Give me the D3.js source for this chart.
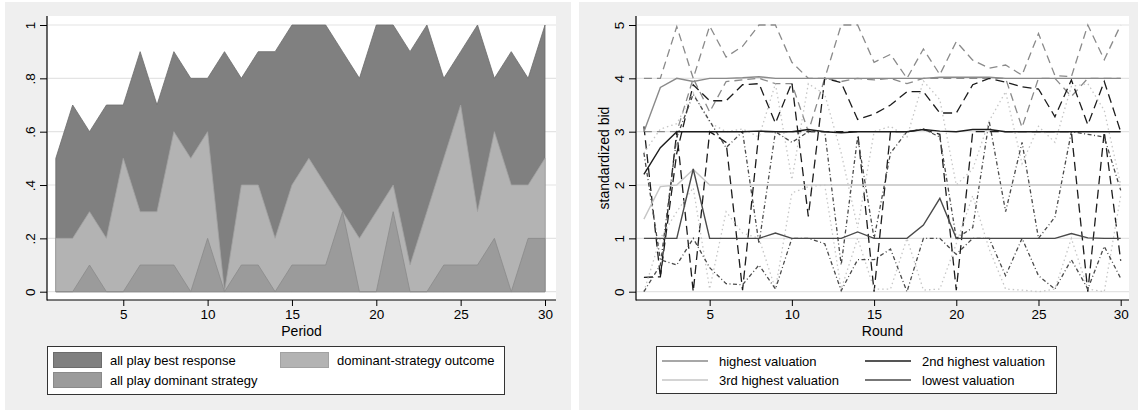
<!DOCTYPE html>
<html>
<head>
<meta charset="utf-8">
<script src="https://cdn.jsdelivr.net/npm/d3@7"></script>
<style>
  html, body { margin: 0; padding: 0; background: #fff; }
  svg { display: block; font-family: "Liberation Sans", Arial, Helvetica, sans-serif; }
</style>
</head>
<body>
<svg id="chart" width="1138" height="410"></svg>
<script>
// ---- data ----
const periods = [1, 2, 3, 4, 5, 6, 7, 8, 9, 10, 11, 12, 13, 14, 15, 16, 17, 18, 19, 20, 21, 22, 23, 24, 25, 26, 27, 28, 29, 30];

const bestResponse = [0.5, 0.7, 0.6, 0.7, 0.7, 0.9, 0.7, 0.9, 0.8, 0.8, 0.9, 0.8, 0.9, 0.9, 1.0,
  1.0, 1.0, 0.9, 0.8, 1.0, 1.0, 0.9, 1.0, 0.8, 0.9, 1.0, 0.8, 0.9, 0.8, 1.0];
const domOutcome = [0.2, 0.2, 0.3, 0.2, 0.5, 0.3, 0.3, 0.6, 0.5, 0.6, 0.0, 0.4, 0.4, 0.2, 0.4,
  0.5, 0.4, 0.3, 0.2, 0.3, 0.4, 0.1, 0.3, 0.5, 0.7, 0.3, 0.6, 0.4, 0.4, 0.5];
const domStrategy = [0.0, 0.0, 0.1, 0.0, 0.0, 0.1, 0.1, 0.1, 0.0, 0.2, 0.0, 0.1, 0.1, 0.0, 0.1,
  0.1, 0.1, 0.3, 0.0, 0.0, 0.3, 0.0, 0.0, 0.1, 0.1, 0.1, 0.2, 0.0, 0.2, 0.2];

const leftYTicks = [0, 0.2, 0.4, 0.6, 0.8, 1];
const leftYLabels = ['0', '.2', '.4', '.6', '.8', '1'];
const xTicks = [5, 10, 15, 20, 25, 30];

// right panel: solid line + two dashed lines per valuation rank
const highestMid = [3, 3.83, 4, 3.94, 4, 4, 4.01, 4.03, 4, 4, 4, 4, 4, 4, 4,
  4, 4, 4, 4.02, 4.02, 4.02, 4.02, 4, 4, 4, 4, 4, 4, 4, 4];
const highestUp = [4, 4, 4.97, 4.0, 4.98, 4.4, 4.6, 5, 5, 4.3, 4.0, 4.0, 5, 5, 4.3,
  4.45, 4.0, 4.55, 4.07, 4.69, 4.34, 4.19, 4.25, 4.06, 4.84, 4.05, 4.03, 5, 4.35, 5];
const highestLow = [3, 3, 3, 4.0, 3.37, 3.94, 3.97, 4.0, 3.9, 3.9, 3.0, 4.0, 3.94, 4.0, 3.97,
  4.0, 3.9, 4.0, 4.0, 4.0, 4.0, 4.0, 4.0, 3.08, 4.0, 4.0, 3.66, 4.0, 4.0, 4.0];

const secondMid = [2.2, 2.7, 3, 3, 3, 3, 3, 3.01, 3, 3, 3.04, 3, 2.98, 3, 3,
  3, 3, 3.04, 3.01, 3, 3.04, 3.04, 3, 3, 3, 3, 3, 3, 3, 3];
const secondUp = [0.27, 0.28, 2.6, 3.88, 3.58, 3.58, 3.88, 3.9, 3.16, 3.92, 1.41, 4.0, 3.92, 3.23, 3.33,
  3.5, 3.75, 3.75, 3.35, 3.35, 3.88, 4.0, 3.93, 3.84, 3.8, 3.28, 3.97, 3.13, 3.94, 3.0];
const secondLow = [3.1, 0.28, 3.0, 0.0, 3.0, 2.8, 0.03, 3.0, 3.0, 3.0, 3.0, 3.0, 3.0, 3.0, 0.0,
  3.0, 3.0, 3.04, 2.95, 0.03, 3.0, 3.0, 3.0, 3.0, 3.0, 3.0, 3.0, 0.0, 3.0, 0.58];

const thirdMid = [1.36, 1.97, 2.0, 2.29, 2.0, 2.0, 2.0, 2.0, 2.0, 2.0, 2.0, 2.0, 2.0, 2.0, 2.0,
  2.0, 2.0, 2.0, 2.0, 2.0, 2.0, 2.0, 2.0, 2.0, 2.0, 2.0, 2.0, 2.0, 2.0, 2.0];
const thirdUp = [2.6, 3.05, 3.15, 3.73, 3.17, 3.0, 3.05, 2.9, 3.9, 2.1, 3.9, 3.7, 2.6, 1.2, 3.0,
  3.1, 2.9, 3.95, 3.6, 2.0, 2.3, 3.2, 3.75, 2.4, 3.1, 2.8, 3.85, 3.9, 3.4, 2.0];
const thirdLow = [0.0, 1.0, 1.5, 1.95, 0.05, 1.5, 1.1, 1.0, 0.05, 1.85, 1.97, 2.0, 0.05, 1.0, 0.05,
  0.05, 1.0, 0.03, 0.05, 0.9, 1.8, 0.8, 0.05, 0.03, 0.0, 0.05, 1.0, 0.05, 0.0, 1.8];

const lowestMid = [1, 1, 1, 2.3, 1, 1, 1, 1, 1.1, 1, 1, 1, 1, 1.12, 1,
  1, 1, 1.25, 1.75, 1, 1, 1, 1, 1, 1, 1, 1.09, 1.01, 1, 1];
const lowestUp = [2.6, 0.6, 0.5, 1.0, 0.45, 0.15, 0.13, 0.5, 0.05, 1.0, 1.0, 0.9, 0.02, 0.6, 0.6,
  0.8, 0.0, 1.0, 1.0, 0.7, 1.0, 1.0, 0.3, 1.0, 0.3, 0.05, 0.6, 0.05, 0.85, 0.25];
const lowestLow = [0.0, 0.5, 2.9, 3.7, 3.2, 2.7, 3.0, 0.9, 3.0, 2.8, 3.0, 3.0, 0.5, 2.9, 1.0,
  2.6, 3.0, 3.05, 2.9, 1.0, 1.2, 3.2, 1.5, 2.8, 1.0, 1.4, 3.0, 2.95, 2.9, 1.9];

const rightYTicks = [0, 1, 2, 3, 4, 5];

// ---- drawing ----
const svg = d3.select('#chart');

function panel(x, w) {
  svg.append('rect')
    .attr('x', x).attr('y', 2)
    .attr('width', w).attr('height', 408)
    .attr('fill', '#efefef');
}

function plotBox(x0, x1) {
  svg.append('rect')
    .attr('x', x0).attr('y', 16)
    .attr('width', x1 - x0).attr('height', 284)
    .attr('fill', '#fff');
}

function grid(yScale, ticks, x0, x1) {
  svg.append('g')
    .selectAll('line')
    .data(ticks)
    .enter()
    .append('line')
    .attr('x1', x0 + 1).attr('x2', x1)
    .attr('y1', function (d) { return yScale(d); })
    .attr('y2', function (d) { return yScale(d); })
    .attr('stroke', '#e4e4e4')
    .attr('stroke-width', 1.2);
}

function axes(xScale, yScale, yTicks, yLabels, x0, x1, xTitle) {
  // y axis
  const gy = svg.append('g').attr('transform', 'translate(' + x0 + ',0)');
  gy.call(d3.axisLeft(yScale).tickValues(yTicks).tickSize(7).tickPadding(7)
    .tickFormat(function (d, i) { return yLabels[i]; }));
  gy.select('.domain').remove();
  gy.selectAll('.tick line').attr('stroke', '#000');
  gy.selectAll('.tick text')
    .attr('fill', '#000')
    .style('font-size', '13.5px')
    .attr('x', 0).attr('dy', 0)
    .attr('text-anchor', 'middle')
    .attr('transform', 'translate(-17,0) rotate(-90)')
    .attr('y', 0)
    .attr('dominant-baseline', 'central');

  // x axis
  const gx = svg.append('g').attr('transform', 'translate(0,300)');
  gx.call(d3.axisBottom(xScale).tickValues(xTicks).tickSize(6).tickPadding(3));
  gx.select('.domain').remove();
  gx.selectAll('.tick line').attr('stroke', '#000');
  gx.selectAll('.tick text').attr('fill', '#000').style('font-size', '13.5px');

  svg.append('line')
    .attr('x1', x0).attr('x2', x0).attr('y1', 16).attr('y2', 300.5)
    .attr('stroke', '#000').attr('stroke-width', 1.2);
  svg.append('line')
    .attr('x1', x0).attr('x2', x1).attr('y1', 300).attr('y2', 300)
    .attr('stroke', '#000').attr('stroke-width', 1.2);

  svg.append('text')
    .attr('x', (x0 + x1) / 2).attr('y', 336)
    .attr('text-anchor', 'middle')
    .style('font-size', '14px')
    .text(xTitle);
}

// ---- left panel: shares over periods ----
panel(5, 566);
plotBox(47, 556);

const xL = d3.scaleLinear().domain([1, 30]).range([55.8, 545]);
const yL = d3.scaleLinear().domain([0, 1]).range([291.7, 25]);

grid(yL, leftYTicks, 47, 556);

const areas = [
  { name: 'all play best response', values: bestResponse, fill: '#808080', stroke: '#6c6c6c' },
  { name: 'dominant-strategy outcome', values: domOutcome, fill: '#b3b3b3', stroke: '#a2a2a2' },
  { name: 'all play dominant strategy', values: domStrategy, fill: '#9b9b9b', stroke: '#8a8a8a' }
];

const area = d3.area()
  .x(function (d, i) { return xL(periods[i]); })
  .y0(yL(0))
  .y1(function (d) { return yL(d); });

svg.append('g')
  .selectAll('path')
  .data(areas)
  .enter()
  .append('path')
  .attr('d', function (d) { return area(d.values); })
  .attr('fill', function (d) { return d.fill; })
  .attr('stroke', function (d) { return d.stroke; })
  .attr('stroke-width', 0.8)
  .attr('stroke-linejoin', 'miter');

axes(xL, yL, leftYTicks, leftYLabels, 47, 556, 'Period');

// left legend
const legL = svg.append('g');
legL.append('rect')
  .attr('x', 47.5).attr('y', 346.5).attr('width', 457).attr('height', 48)
  .attr('fill', '#fff').attr('stroke', '#333');
const legLItems = [
  { item: areas[0], x: 53, y: 352 },
  { item: areas[2], x: 53, y: 372 },
  { item: areas[1], x: 280, y: 352 }
];
legLItems.forEach(function (l) {
  legL.append('rect')
    .attr('x', l.x + 0.5).attr('y', l.y + 0.5).attr('width', 48).attr('height', 15)
    .attr('fill', l.item.fill).attr('stroke', l.item.stroke);
  legL.append('text')
    .attr('x', l.x + 57).attr('y', l.y + 8)
    .attr('dominant-baseline', 'central')
    .style('font-size', '13px')
    .text(l.item.name);
});

// ---- right panel: standardized bids over rounds ----
panel(579, 559);
plotBox(636, 1129);

const xR = d3.scaleLinear().domain([1, 30]).range([643.9, 1120.7]);
const yR = d3.scaleLinear().domain([0, 5]).range([291.7, 25]);

grid(yR, rightYTicks, 636, 1129);

const groups = [
  { name: 'highest valuation', color: '#8a8a8a', dash: '8,5', mid: highestMid, up: highestUp, low: highestLow },
  { name: '2nd highest valuation', color: '#1c1c1c', dash: '9,5', mid: secondMid, up: secondUp, low: secondLow },
  { name: '3rd highest valuation', color: '#c6c6c6', dash: '1.5,3', mid: thirdMid, up: thirdUp, low: thirdLow },
  { name: 'lowest valuation', color: '#4a4a4a', dash: '4,2.5,1,2.5', mid: lowestMid, up: lowestUp, low: lowestLow }
];

const line = d3.line()
  .x(function (d, i) { return xR(periods[i]); })
  .y(function (d) { return yR(d); });

const dashed = [];
groups.forEach(function (g) {
  dashed.push({ values: g.up, color: g.color, dash: g.dash });
  dashed.push({ values: g.low, color: g.color, dash: g.dash });
});

svg.append('g')
  .selectAll('path')
  .data(dashed)
  .enter()
  .append('path')
  .attr('d', function (d) { return line(d.values); })
  .attr('fill', 'none')
  .attr('stroke', function (d) { return d.color; })
  .attr('stroke-width', 1.3)
  .attr('stroke-dasharray', function (d) { return d.dash; });

svg.append('g')
  .selectAll('path')
  .data(groups)
  .enter()
  .append('path')
  .attr('d', function (d) { return line(d.mid); })
  .attr('fill', 'none')
  .attr('stroke', function (d) { return d.color; })
  .attr('stroke-width', 1.4);

axes(xR, yR, rightYTicks, rightYTicks.map(String), 636, 1129, 'Round');

svg.append('text')
  .attr('transform', 'translate(604,158) rotate(-90)')
  .attr('text-anchor', 'middle')
  .attr('dominant-baseline', 'central')
  .style('font-size', '14px')
  .text('standardized bid');

// right legend
const legR = svg.append('g');
legR.append('rect')
  .attr('x', 656.5).attr('y', 346.5).attr('width', 400).attr('height', 47)
  .attr('fill', '#fff').attr('stroke', '#333');
const legRPos = [
  { x: 662, y: 361 },
  { x: 865, y: 361 },
  { x: 662, y: 380 },
  { x: 865, y: 380 }
];
groups.forEach(function (g, i) {
  const p = legRPos[i];
  legR.append('line')
    .attr('x1', p.x).attr('x2', p.x + 46)
    .attr('y1', p.y).attr('y2', p.y)
    .attr('stroke', g.color).attr('stroke-width', 1.4);
  legR.append('text')
    .attr('x', p.x + 57).attr('y', p.y)
    .attr('dominant-baseline', 'central')
    .style('font-size', '13px')
    .text(g.name);
});
</script>
</body>
</html>
